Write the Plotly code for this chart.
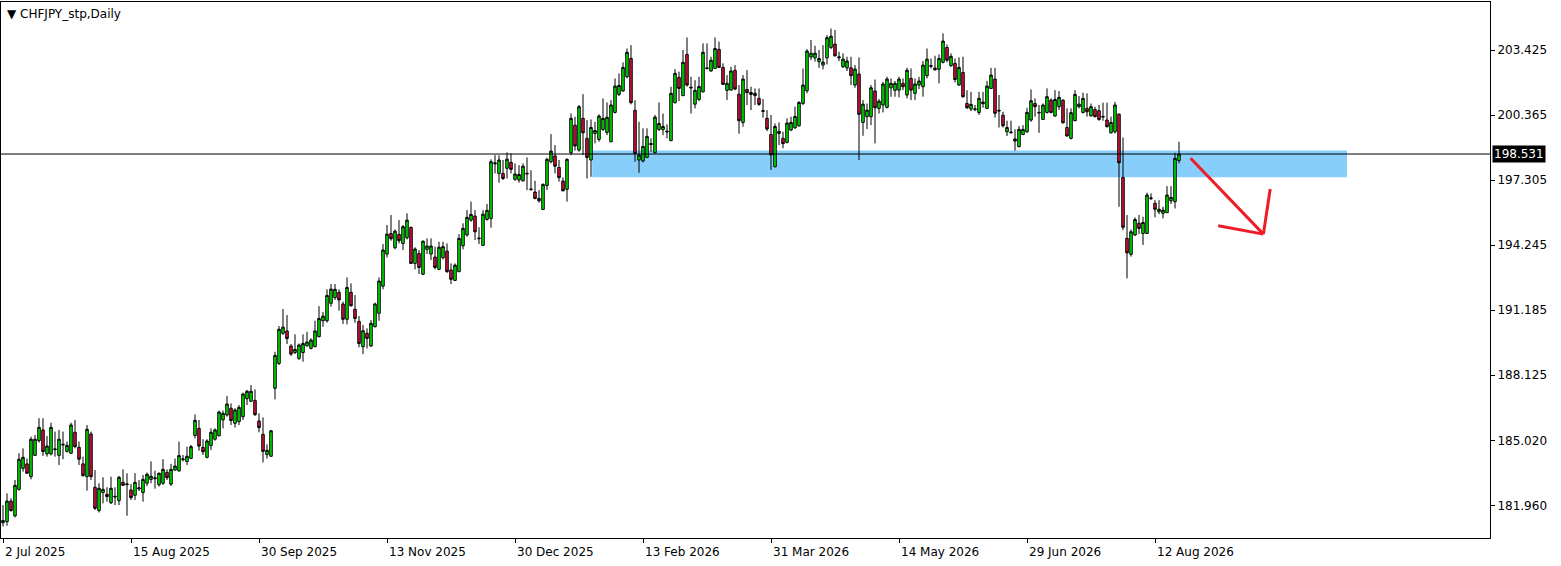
import pandas as pd
import plotly.graph_objects as go

# CHFJPY daily, 2 Jul 2025 - 20 Aug 2026 (prices)
start_day = '2025-07-02'
holidays = ['2025-12-25', '2026-01-01']

opens = [181.17, 181.22, 182.19, 181.49, 182.74, 183.73, 183.94, 183.34, 184.34, 185.03,
         185.54, 184.41, 184.41, 184.61, 184.34, 184.83, 184.53, 184.44, 185.43, 184.72,
         183.94, 183.34, 185.35, 182.84, 181.74, 182.59, 182.51, 182.11, 182.38, 182.21,
         183.07, 182.96, 182.71, 182.46, 182.76, 182.59, 183.03, 183.21, 183.24, 182.96,
         183.03, 183.54, 182.99, 183.65, 183.61, 184.14, 184.05, 184.20, 185.28, 185.61,
         184.72, 184.25, 184.80, 185.10, 185.27, 186.01, 186.24, 186.56, 185.85, 185.93,
         186.16, 187.01, 186.89, 186.93, 185.96, 185.33, 184.38, 184.30, 187.50, 188.67,
         190.09, 190.20, 189.49, 189.18, 188.91, 189.18, 189.50, 189.38, 189.46, 189.93,
         190.68, 190.68, 191.50, 191.77, 192.02, 191.47, 190.75, 192.02, 191.22, 190.65,
         189.46, 190.09, 189.49, 190.40, 191.03, 192.31, 193.82, 194.79, 194.12, 194.75,
         194.32, 194.59, 195.08, 193.38, 193.85, 192.87, 194.04, 193.82, 193.68, 193.10,
         193.65, 193.96, 193.07, 192.58, 192.99, 194.21, 194.72, 195.42, 195.61, 194.54,
         194.23, 195.45, 195.50, 198.07, 197.62, 197.62, 197.86, 198.14, 197.34, 197.31,
         197.27, 197.59, 196.85, 196.74, 196.44, 195.92, 197.05, 198.17, 198.44, 197.90,
         197.26, 196.87, 198.59, 199.89, 198.72, 200.21, 199.27, 198.25, 199.50, 199.22,
         199.69, 199.55, 199.11, 200.49, 201.34, 201.50, 202.17, 203.03, 200.59, 198.25,
         198.20, 198.37, 198.98, 198.59, 199.69, 199.68, 199.57, 199.16, 200.95, 202.14,
         201.28, 203.22, 201.64, 200.88, 201.10, 201.46, 202.55, 202.44, 202.56, 203.46,
         202.61, 201.53, 201.54, 202.47, 201.35, 200.02, 201.57, 201.43, 201.28, 201.15,
         200.54, 200.21, 199.45, 197.93, 199.50, 199.27, 199.08, 199.66, 199.77, 199.86,
         200.91, 201.51, 203.10, 203.06, 202.88, 202.72, 203.06, 203.55, 203.71, 203.06,
         202.64, 202.59, 202.59, 201.78, 202.30, 200.02, 200.29, 200.29, 201.50, 200.68,
         200.84, 200.73, 201.65, 201.53, 201.54, 201.86, 201.31, 202.09, 201.39, 201.78,
         201.70, 202.22, 202.66, 202.58, 202.52, 202.85, 203.55, 202.69, 202.80, 201.78,
         202.37, 200.91, 200.65, 200.62, 200.49, 200.98, 200.68, 201.62, 202.06, 200.59,
         200.36, 199.58, 199.53, 199.24, 198.88, 199.45, 199.58, 200.13, 200.91, 200.46,
         200.16, 200.49, 201.07, 200.32, 200.76, 201.07, 199.78, 199.27, 200.10, 200.76,
         200.49, 200.68, 200.33, 200.63, 200.57, 200.27, 200.13, 199.53, 199.58, 200.41,
         197.43, 194.56, 193.81, 194.72, 195.27, 194.79, 194.79, 196.43, 196.21, 195.81,
         195.74, 195.77, 196.33, 196.29, 198.22]

highs = [182.00, 182.55, 182.32, 183.18, 184.44, 184.67, 184.20, 185.22, 185.30, 186.09,
         186.09, 185.25, 185.88, 185.46, 185.54, 185.46, 184.99, 185.88, 186.01, 184.99,
         184.28, 185.77, 185.46, 183.65, 183.03, 183.31, 182.84, 183.34, 182.84, 183.37,
         183.68, 183.50, 182.99, 183.50, 183.18, 183.42, 183.53, 184.06, 183.62, 183.53,
         184.16, 183.68, 183.94, 184.19, 184.99, 184.36, 184.75, 184.83, 186.27, 186.01,
         185.10, 185.10, 185.61, 185.61, 186.45, 186.45, 187.14, 186.79, 186.56, 186.71,
         187.29, 187.42, 187.65, 187.45, 186.32, 186.13, 184.86, 185.54, 189.22, 190.43,
         191.23, 190.95, 189.58, 190.04, 189.61, 190.04, 190.16, 189.85, 190.68, 191.37,
         191.10, 192.16, 192.41, 192.41, 192.16, 191.58, 192.72, 192.44, 191.89, 190.90,
         190.48, 190.32, 190.71, 191.53, 192.72, 194.29, 195.19, 195.66, 194.98, 195.42,
         195.19, 195.74, 195.11, 194.14, 194.01, 194.45, 194.56, 194.56, 194.17, 194.40,
         194.40, 194.32, 193.38, 193.38, 194.76, 195.27, 195.89, 196.29, 195.89, 195.08,
         195.89, 196.18, 198.28, 198.48, 198.47, 198.25, 198.61, 198.56, 198.09, 198.01,
         198.09, 198.37, 197.77, 197.27, 196.83, 197.15, 198.36, 199.47, 198.95, 198.25,
         197.43, 198.33, 200.44, 200.29, 200.84, 201.35, 200.13, 200.16, 200.05, 200.40,
         201.15, 200.96, 201.07, 202.09, 202.33, 202.85, 203.50, 203.66, 201.07, 200.05,
         199.74, 199.74, 199.27, 200.37, 200.96, 200.44, 199.93, 201.70, 202.53, 202.41,
         203.43, 204.02, 202.17, 202.01, 202.17, 203.74, 203.74, 203.11, 204.02, 203.82,
         202.80, 202.25, 202.64, 202.72, 201.78, 202.25, 202.48, 201.70, 201.62, 201.62,
         201.12, 200.60, 200.37, 199.97, 200.02, 199.58, 200.21, 200.29, 200.76, 201.02,
         202.56, 203.47, 203.90, 203.63, 203.43, 203.66, 204.13, 204.44, 204.37, 203.35,
         203.27, 203.11, 203.11, 202.72, 203.08, 201.07, 200.91, 201.78, 202.04, 201.12,
         201.93, 202.17, 202.09, 201.97, 202.17, 202.09, 202.59, 202.56, 202.09, 202.17,
         202.91, 203.50, 203.03, 203.16, 203.22, 204.21, 203.69, 203.27, 203.03, 203.08,
         203.11, 201.54, 201.46, 200.84, 201.46, 201.46, 201.97, 202.59, 202.59, 201.31,
         200.52, 200.10, 200.10, 199.69, 199.85, 199.89, 200.71, 201.57, 201.15, 200.84,
         200.91, 201.62, 201.15, 201.54, 201.50, 201.10, 200.68, 200.68, 201.54, 201.26,
         201.42, 201.39, 200.91, 200.76, 200.84, 200.95, 200.95, 200.29, 200.99, 200.44,
         199.31, 195.66, 194.98, 195.55, 195.66, 195.58, 196.71, 196.68, 196.36, 196.36,
         196.05, 197.02, 197.02, 198.59, 199.11]

lows = [180.99, 181.03, 181.69, 181.42, 182.68, 183.57, 183.47, 183.21, 184.31, 184.94,
        184.31, 184.28, 184.34, 184.28, 183.89, 184.16, 184.47, 184.41, 184.67, 183.89,
        183.34, 182.68, 183.18, 181.77, 181.65, 182.08, 182.16, 182.05, 182.00, 182.00,
        182.90, 181.50, 182.24, 182.24, 182.66, 182.16, 182.90, 183.03, 182.77, 182.87,
        182.95, 183.18, 182.90, 183.62, 183.57, 184.05, 183.89, 184.16, 185.14, 184.56,
        184.36, 184.20, 184.59, 185.03, 185.22, 185.61, 186.16, 185.77, 185.65, 185.77,
        186.01, 186.71, 186.85, 186.19, 185.43, 184.01, 184.19, 184.28, 186.98, 188.60,
        190.01, 189.58, 189.02, 189.11, 188.83, 188.75, 189.46, 189.33, 189.43, 189.90,
        190.40, 190.59, 191.34, 191.66, 191.15, 190.53, 190.51, 191.34, 190.59, 189.43,
        189.11, 189.38, 189.46, 190.37, 190.68, 192.16, 193.66, 194.45, 194.04, 194.32,
        194.01, 194.51, 193.35, 193.10, 192.88, 192.83, 193.82, 193.54, 193.10, 193.07,
        193.57, 192.94, 192.41, 192.55, 192.97, 194.04, 194.64, 195.34, 194.48, 194.29,
        194.20, 195.39, 195.06, 197.62, 197.18, 197.31, 197.38, 197.62, 197.27, 197.18,
        197.23, 196.83, 196.82, 196.40, 196.24, 195.89, 196.83, 198.09, 197.62, 197.23,
        196.77, 196.29, 198.48, 198.69, 198.64, 198.48, 197.38, 197.46, 199.03, 199.11,
        199.61, 199.42, 199.09, 200.44, 201.26, 201.46, 202.09, 200.87, 198.17, 197.65,
        198.14, 198.35, 198.64, 198.56, 199.61, 199.42, 199.27, 199.14, 200.91, 201.02,
        201.26, 201.70, 200.44, 200.68, 201.02, 201.43, 202.53, 202.41, 202.54, 202.59,
        201.78, 201.07, 201.53, 201.54, 199.49, 199.82, 200.84, 200.60, 200.84, 200.80,
        200.24, 199.61, 197.78, 197.91, 198.95, 198.80, 199.03, 199.61, 199.71, 199.82,
        200.84, 201.39, 202.95, 202.88, 202.59, 202.52, 202.75, 203.47, 203.11, 202.91,
        202.59, 202.44, 201.78, 201.65, 198.25, 199.39, 199.71, 199.89, 199.03, 200.44,
        200.49, 200.68, 201.23, 201.23, 201.20, 201.54, 201.15, 201.07, 201.07, 201.59,
        201.23, 202.09, 202.56, 202.45, 201.86, 202.80, 202.85, 202.64, 201.90, 201.75,
        201.18, 200.65, 200.55, 200.55, 200.37, 200.71, 200.65, 201.59, 200.25, 199.78,
        199.78, 199.38, 199.50, 198.69, 198.84, 199.42, 199.53, 200.05, 200.29, 199.53,
        200.13, 200.44, 200.44, 200.29, 200.60, 199.97, 199.35, 199.22, 200.08, 200.68,
        200.44, 200.29, 200.29, 200.26, 200.10, 200.10, 199.78, 199.50, 199.50, 196.05,
        194.95, 192.68, 193.70, 194.67, 194.76, 194.25, 194.77, 196.36, 195.55, 195.70,
        195.50, 195.75, 196.18, 195.97, 198.09]

closes = [181.27, 182.19, 181.74, 182.93, 184.16, 184.25, 183.50, 185.10, 185.10, 185.66,
          184.52, 184.78, 185.66, 184.64, 185.10, 184.86, 184.81, 185.77, 184.75, 184.16,
          183.39, 185.57, 183.34, 181.85, 182.79, 182.74, 182.40, 182.79, 182.41, 183.31,
          182.93, 182.99, 182.35, 183.07, 182.81, 183.21, 183.45, 183.36, 183.28, 183.50,
          183.68, 183.29, 183.68, 183.84, 184.33, 184.17, 184.30, 184.75, 185.99, 184.78,
          184.51, 185.02, 185.43, 185.54, 186.38, 186.32, 186.76, 185.98, 186.48, 186.60,
          187.23, 187.36, 187.36, 186.26, 185.65, 184.53, 184.58, 185.50, 189.05, 190.28,
          190.38, 189.84, 189.11, 189.33, 189.54, 189.61, 189.68, 189.77, 190.20, 190.79,
          190.90, 191.87, 192.17, 192.16, 191.66, 190.75, 192.25, 191.39, 190.79, 189.61,
          190.21, 189.85, 190.56, 191.47, 192.55, 194.01, 194.76, 194.54, 194.90, 194.45,
          195.11, 195.42, 193.38, 194.06, 193.19, 194.43, 194.20, 194.20, 193.19, 194.14,
          194.17, 192.99, 192.63, 193.30, 194.56, 195.03, 195.55, 195.69, 194.87, 194.57,
          195.70, 195.88, 198.17, 198.11, 198.25, 197.38, 198.29, 197.81, 197.59, 197.57,
          197.96, 197.62, 196.88, 196.44, 196.33, 197.10, 198.28, 198.67, 197.96, 197.42,
          196.80, 198.28, 200.21, 198.91, 200.76, 199.53, 198.37, 199.78, 199.64, 200.32,
          200.21, 200.26, 200.84, 201.73, 201.76, 202.61, 203.32, 200.95, 198.56, 198.48,
          198.89, 199.36, 199.02, 200.27, 199.97, 199.83, 199.60, 201.39, 202.33, 201.62,
          202.85, 201.78, 201.67, 201.53, 201.71, 203.32, 202.58, 202.95, 203.50, 202.61,
          201.81, 201.86, 202.44, 201.59, 200.10, 202.06, 201.42, 201.34, 201.39, 200.87,
          200.57, 199.71, 198.49, 199.83, 199.60, 199.02, 199.99, 200.02, 200.30, 200.96,
          201.78, 203.38, 203.28, 203.28, 203.03, 202.86, 204.01, 204.08, 203.16, 203.10,
          203.00, 202.91, 202.22, 202.53, 200.40, 200.88, 200.60, 201.65, 200.71, 201.02,
          201.83, 202.06, 201.86, 201.86, 202.06, 201.70, 202.48, 201.54, 201.83, 201.97,
          202.72, 203.00, 202.69, 202.50, 203.03, 203.85, 202.95, 203.13, 202.04, 202.61,
          201.23, 200.71, 200.87, 200.65, 201.15, 200.90, 201.73, 202.25, 200.45, 200.56,
          199.86, 199.78, 199.56, 199.14, 199.69, 199.69, 200.49, 201.04, 200.76, 200.49,
          200.84, 201.23, 200.49, 201.10, 201.20, 200.00, 199.38, 200.48, 201.34, 200.88,
          201.15, 200.52, 200.76, 200.29, 200.16, 200.30, 199.82, 200.02, 200.84, 198.12,
          195.08, 193.88, 194.87, 195.45, 195.03, 195.31, 196.60, 196.46, 195.93, 195.93,
          195.89, 196.60, 196.49, 198.33, 198.53]

# axis labels
price_ticks = [181.960, 185.020, 188.125, 191.185, 194.245, 197.305, 200.365, 203.425]
date_ticks = ['2025-07-02', '2025-08-15', '2025-09-30', '2025-11-13', '2025-12-30',
              '2026-02-13', '2026-03-31', '2026-05-14', '2026-06-29', '2026-08-12']
date_labels = ['2 Jul 2025', '15 Aug 2025', '30 Sep 2025', '13 Nov 2025', '30 Dec 2025',
               '13 Feb 2026', '31 Mar 2026', '14 May 2026', '29 Jun 2026', '12 Aug 2026']

current_price = 198.531
zone_top = 198.70
zone_bottom = 197.44
zone_bars = [147.3, 336.0]          # bar index where the drawn box starts / ends
arrow_bars = [296.9, 315.1, 303.8, 316.8]     # start, tip, left barb, right barb
arrow_prices = [198.33, 194.76, 195.15, 196.88]

days = pd.bdate_range(start_day, periods=len(closes), freq='C', holidays=holidays)
dates = [d.strftime('%Y-%m-%d') for d in days]

FONT = 'DejaVu Sans, Verdana, sans-serif'

fig = go.Figure()
fig.add_trace(go.Candlestick(
    x=dates, open=opens, high=highs, low=lows, close=closes,
    increasing=dict(fillcolor='#00f000', line=dict(color='black', width=1)),
    decreasing=dict(fillcolor='#dc143c', line=dict(color='black', width=1)),
    whiskerwidth=0, showlegend=False, hoverinfo='x+y'))

# support / resistance box (behind the candles)
fig.add_shape(type='rect', xref='x', yref='y',
              x0=zone_bars[0], x1=zone_bars[1], y0=zone_bottom, y1=zone_top,
              fillcolor='#87cefa', line=dict(width=0), layer='below')
# current price line
fig.add_shape(type='line', xref='paper', yref='y', x0=0, x1=1,
              y0=current_price, y1=current_price, line=dict(color='black', width=1))

# hand drawn red arrow: shaft and two barbs all meet at the tip
red = '#ee1c25'
for i in [0, 2, 3]:
    fig.add_shape(type='line', xref='x', yref='y',
                  x0=arrow_bars[i], y0=arrow_prices[i], x1=arrow_bars[1], y1=arrow_prices[1],
                  line=dict(color=red, width=3))

# date labels, left aligned on the bar like MT4
for d, lab in zip(date_ticks, date_labels):
    fig.add_annotation(x=d, y=0, xref='x', yref='paper', text=lab, showarrow=False,
                       xanchor='left', yanchor='top', yshift=-5,
                       font=dict(family=FONT, size=12, color='black'))

fig.add_annotation(x=0, y=1, xref='paper', yref='paper', text='▼ CHFJPY_stp,Daily',
                   showarrow=False, xanchor='left', yanchor='top', xshift=4, yshift=-3,
                   font=dict(family=FONT, size=12, color='black'))

fig.add_annotation(x=1, y=current_price, xref='paper', yref='y', text='%.3f' % current_price,
                   showarrow=False, xanchor='left', yanchor='middle', xshift=2,
                   bgcolor='black', borderpad=1,
                   font=dict(family=FONT, size=12, color='white'))

fig.update_layout(
    width=1561, height=566,
    margin=dict(l=1, r=71, t=2, b=28),
    paper_bgcolor='white', plot_bgcolor='white',
    font=dict(family=FONT, size=12, color='black'),
    hovermode='x', boxgap=0.1,
    xaxis=dict(type='category', range=[-0.5, 371.75], rangeslider=dict(visible=False),
               tickmode='array', tickvals=date_ticks, showticklabels=False,
               ticks='outside', ticklen=4, tickcolor='black',
               showgrid=False, showline=True, linecolor='black', linewidth=1, mirror=True),
    yaxis=dict(side='right', range=[180.45, 205.69], tickmode='array',
               tickvals=price_ticks, ticktext=['%.3f' % v for v in price_ticks],
               ticks='outside', ticklen=4, tickcolor='black',
               showgrid=False, zeroline=False, showline=True, linecolor='black',
               linewidth=1, mirror=True),
)

fig.write_html("out.html", config={'displayModeBar': False},
               post_script="document.body.style.margin='0';")
